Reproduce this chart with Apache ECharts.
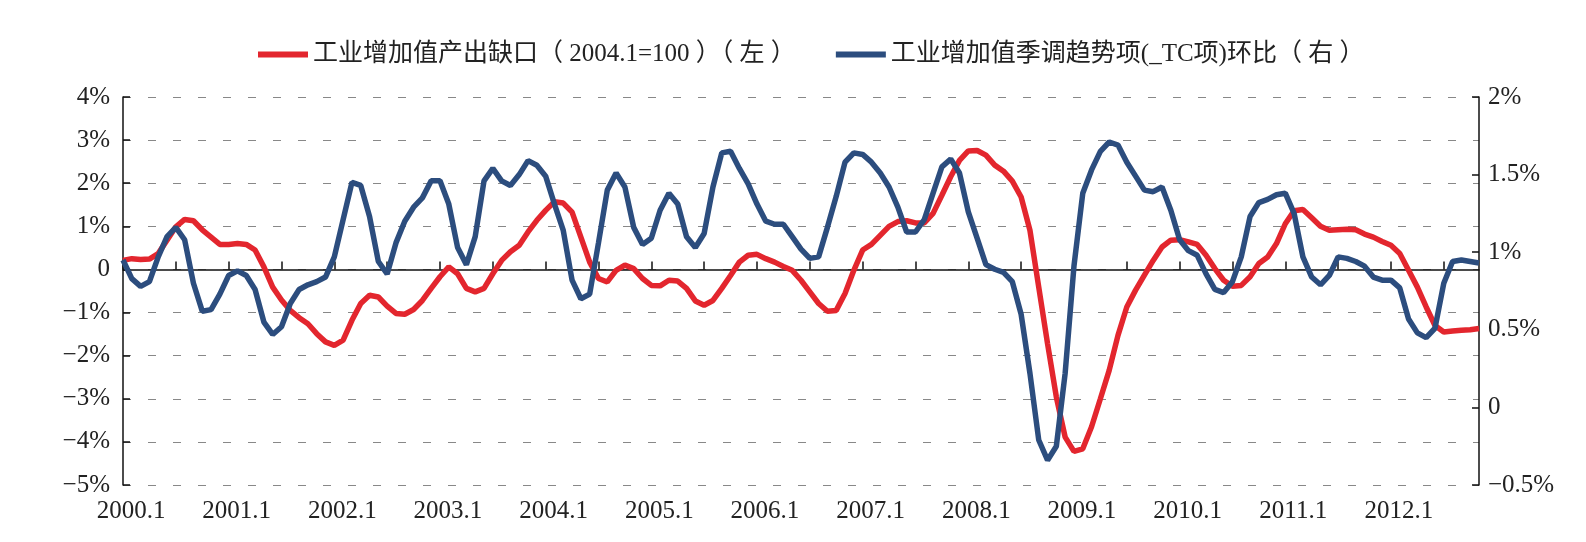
<!DOCTYPE html>
<html>
<head>
<meta charset="utf-8">
<script src="https://cdn.jsdelivr.net/npm/echarts@6/dist/echarts.min.js"></script>
<style>
  html, body { margin: 0; padding: 0; background: #fff; }
  #chart { width: 1586px; height: 542px; }
</style>
</head>
<body>
<div id="chart"></div>
<script>
// month categories 2000.1 - 2012.11
var months = [];
for (var y = 2000; y <= 2012; y++) {
  for (var m = 1; m <= 12; m++) {
    if (y === 2012 && m > 11) break;
    months.push(y + '.' + m);
  }
}

var seriesNames = ['工业增加值产出缺口（ 2004.1=100 ）（ 左 ）', '工业增加值季调趋势项(_TC项)环比（ 右 ）'];

// output gap, left axis (%)
var gapValues = [
  0.21, 0.25, 0.23, 0.24, 0.37, 0.68, 0.99, 1.16, 1.13, 0.92,
  0.75, 0.58, 0.58, 0.60, 0.58, 0.45, 0.06, -0.41, -0.71, -0.95,
  -1.12, -1.26, -1.49, -1.68, -1.76, -1.64, -1.18, -0.79, -0.60, -0.64,
  -0.85, -1.02, -1.04, -0.93, -0.72, -0.44, -0.17, 0.06, -0.10, -0.44,
  -0.52, -0.44, -0.10, 0.21, 0.41, 0.56, 0.87, 1.14, 1.37, 1.57,
  1.54, 1.33, 0.75, 0.17, -0.21, -0.29, -0.02, 0.10, 0.02, -0.21,
  -0.37, -0.38, -0.25, -0.27, -0.44, -0.73, -0.83, -0.72, -0.44, -0.14,
  0.17, 0.33, 0.35, 0.25, 0.17, 0.07, -0.02, -0.25, -0.52, -0.79,
  -0.97, -0.95, -0.56, -0.02, 0.45, 0.58, 0.79, 1.00, 1.11, 1.13,
  1.08, 1.08, 1.30, 1.72, 2.15, 2.53, 2.75, 2.76, 2.65, 2.42,
  2.28, 2.05, 1.68, 0.91, -0.41, -1.72, -2.96, -3.89, -4.22, -4.16,
  -3.65, -3.00, -2.34, -1.53, -0.87, -0.48, -0.13, 0.21, 0.52, 0.68,
  0.69, 0.64, 0.58, 0.33, 0.02, -0.25, -0.39, -0.37, -0.17, 0.14,
  0.29, 0.60, 1.06, 1.36, 1.39, 1.20, 1.00, 0.91, 0.92, 0.93,
  0.92, 0.82, 0.75, 0.65, 0.56, 0.37, -0.02, -0.41, -0.87, -1.30,
  -1.45, -1.43, -1.41, -1.40, -1.37
];

// TC trend month-on-month, right axis (%)
var tcValues = [
  0.95, 0.83, 0.78, 0.81, 0.97, 1.10, 1.16, 1.08, 0.80, 0.62,
  0.63, 0.73, 0.85, 0.88, 0.85, 0.76, 0.55, 0.47, 0.52, 0.67,
  0.76, 0.79, 0.81, 0.84, 0.97, 1.21, 1.45, 1.43, 1.23, 0.94,
  0.86, 1.06, 1.20, 1.29, 1.35, 1.46, 1.46, 1.31, 1.03, 0.92,
  1.10, 1.46, 1.54, 1.46, 1.43, 1.50, 1.59, 1.56, 1.49, 1.31,
  1.14, 0.82, 0.70, 0.73, 1.06, 1.40, 1.51, 1.42, 1.16, 1.05,
  1.09, 1.27, 1.38, 1.31, 1.10, 1.03, 1.12, 1.42, 1.64, 1.65,
  1.54, 1.44, 1.31, 1.20, 1.18, 1.18, 1.10, 1.02, 0.96, 0.97,
  1.16, 1.36, 1.58, 1.64, 1.63, 1.58, 1.51, 1.42, 1.29, 1.13,
  1.13, 1.21, 1.38, 1.55, 1.60, 1.51, 1.26, 1.09, 0.92, 0.89,
  0.87, 0.81, 0.60, 0.22, -0.21, -0.34, -0.25, 0.22, 0.91, 1.38,
  1.53, 1.65, 1.71, 1.69, 1.58, 1.49, 1.40, 1.39, 1.42, 1.27,
  1.08, 1.01, 0.98, 0.86, 0.76, 0.74, 0.81, 0.97, 1.23, 1.32,
  1.34, 1.37, 1.38, 1.25, 0.97, 0.84, 0.79, 0.85, 0.97, 0.96,
  0.94, 0.91, 0.84, 0.82, 0.82, 0.77, 0.57, 0.48, 0.45, 0.51,
  0.80, 0.94, 0.95, 0.94, 0.93
];

var serif = '"Liberation Serif", "Times New Roman", serif';
var legendFont = '"Liberation Serif", "Noto Sans CJK SC", sans-serif';

function pct(v) {
  if (v === 0) return '0';
  return (v < 0 ? '\u2212' + (-v) : v) + '%';
}

var myChart = echarts.init(document.getElementById('chart'));

var option = {
  backgroundColor: '#fff',
  animation: false,
  legend: {
    top: 37,
    left: 253,
    itemWidth: 50,
    itemHeight: 6,
    itemGap: 40,
    icon: 'rect',
    textStyle: { fontSize: 25, color: '#222', fontFamily: legendFont },
    data: seriesNames
  },
  grid: { left: 123, right: 107, top: 97, bottom: 57 },
  xAxis: [
    {
      type: 'category',
      data: months,
      boundaryGap: false,
      axisLine: { onZero: true, lineStyle: { color: '#111', width: 1.5 } },
      axisTick: {
        inside: true, length: 8,
        interval: function (i) { return i % 6 === 0; },
        lineStyle: { color: '#111', width: 1.5 }
      },
      axisLabel: { show: false },
      splitLine: { show: false }
    },
    {
      type: 'category',
      data: months,
      position: 'bottom',
      boundaryGap: false,
      axisLine: { show: false, onZero: false },
      axisTick: { show: false },
      axisLabel: {
        interval: function (i) { return i % 12 === 0; },
        fontFamily: serif, fontSize: 25, color: '#222',
        margin: 14, padding: [0, 0, 0, 16]
      },
      splitLine: { show: false }
    }
  ],
  yAxis: [
    {
      type: 'value',
      min: -5, max: 4, interval: 1,
      position: 'left',
      axisLine: { show: true, lineStyle: { color: '#111', width: 1.5 } },
      axisTick: { show: true, inside: true, length: 7, lineStyle: { color: '#111', width: 1.5 } },
      axisLabel: { formatter: pct, fontFamily: serif, fontSize: 25, color: '#222', margin: 13 },
      splitLine: { show: true, lineStyle: { color: '#888', width: 1, type: [8, 17] } }
    },
    {
      type: 'value',
      min: -0.5, max: 2, interval: 0.5,
      position: 'right',
      axisLine: { show: true, lineStyle: { color: '#111', width: 1.5 } },
      axisTick: { show: true, inside: true, length: 7, lineStyle: { color: '#111', width: 1.5 } },
      axisLabel: { formatter: pct, fontFamily: serif, fontSize: 25, color: '#222', margin: 9 },
      splitLine: { show: false }
    }
  ],
  series: [
    {
      name: seriesNames[0],
      type: 'line',
      xAxisIndex: 0,
      yAxisIndex: 0,
      data: gapValues,
      showSymbol: false,
      color: '#E3262E',
      lineStyle: { width: 5.5, color: '#E3262E' }
    },
    {
      name: seriesNames[1],
      type: 'line',
      xAxisIndex: 0,
      yAxisIndex: 1,
      data: tcValues,
      showSymbol: false,
      color: '#2C4D7E',
      lineStyle: { width: 5.5, color: '#2C4D7E' }
    }
  ]
};

myChart.setOption(option);
</script>
</body>
</html>
